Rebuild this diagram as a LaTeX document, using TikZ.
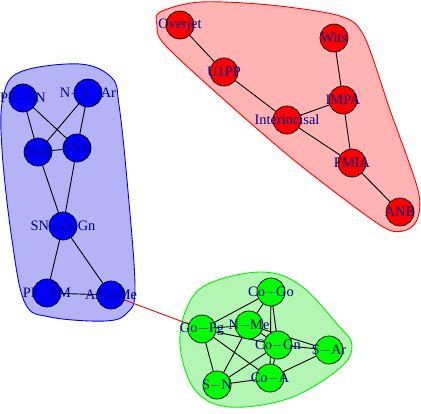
\documentclass[tikz,border=0pt]{standalone}
\usepackage{fontspec}
\setmainfont{Liberation Serif}
\pgfdeclarelayer{hulls}
\pgfdeclarelayer{edges}
\pgfsetlayers{hulls,edges,main}
\begin{document}
\begin{tikzpicture}[x=1pt,y=-1pt,
  vtx/.style={circle,draw=black,line width=0.7pt,minimum size=28pt,inner sep=0pt},
  bv/.style={vtx,fill={rgb,255:red,0;green,0;blue,255}},
  rv/.style={vtx,fill={rgb,255:red,255;green,0;blue,0}},
  gv/.style={vtx,fill={rgb,255:red,0;green,255;blue,0}},
  lbl/.style={inner sep=0pt,text={rgb,255:red,0;green,0;blue,139},font=\fontsize{14.4}{14.4}\selectfont},
  edge/.style={draw=black,line width=0.9pt},
  hull/.style={line width=0.9pt}]
\useasboundingbox (0,0) rectangle (421,413);
% hulls
\begin{pgfonlayer}{hulls}
\draw[hull,draw={rgb,255:red,0;green,0;blue,255},fill={rgb,255:red,179;green,179;blue,245}]
  plot[smooth cycle,tension=0.6] coordinates {(3,98) (20,72) (80,64) (112,78) (119,105) (127,180) (135,287) (127,313) (105,321) (50,317) (25,303) (12,240) (2,150)};
\draw[hull,draw={rgb,255:red,255;green,0;blue,0},fill={rgb,255:red,255;green,179;blue,179}]
  plot[smooth cycle,tension=0.5] coordinates {(160,12) (200,2) (270,5) (340,16) (364,36) (390,110) (418,190) (417,220) (403,231) (380,225) (300,165) (230,105) (165,45) (157,25)};
\draw[hull,draw={rgb,255:red,0;green,238;blue,0},fill={rgb,255:red,179;green,245;blue,179}]
  plot[smooth cycle,tension=0.6] coordinates {(210,283) (262,272) (300,285) (338,325) (352,345) (340,368) (290,398) (230,407) (195,390) (180,345) (188,305)};
\end{pgfonlayer}
% vertices
\foreach \n/\s/\x/\y in {ppsn/bv/23/98, nsar/bv/88/93, snb/bv/38/152, sna/bv/77/148, sngogn/bv/63/226, pppm/bv/47/293, argome/bv/111/295,
  overjet/rv/180/25, u1pp/rv/224/72, inter/rv/287/120, wits/rv/334/38, impa/rv/343/100, fmia/rv/352/163, anb/rv/400/212,
  cogo/gv/271/292, gopg/gv/202/329, nme/gv/249/325, cogn/gv/278/345, sar/gv/329/350, coa/gv/270/378, sn/gv/217/385}
  \node[\s] (\n) at (\x,\y) {};
% labels
\node[lbl] (lppsn) at (ppsn) {PP$-$SN};
\node[lbl] (lnsar) at (nsar) {N$-$S$-$Ar};
\node[lbl] (lsnb) at (snb) {SNB};
\node[lbl] (lsna) at (sna) {SNA};
\node[lbl] (lsngogn) at (sngogn) {SN$-$GoGn};
\node[lbl] (lpppm) at (pppm) {PP$-$PM};
\node[lbl] (largome) at (argome) {ArGoMe};
\node[lbl] (loverjet) at (overjet) {Overjet};
\node[lbl] (lu1pp) at (u1pp) {U1PP};
\node[lbl] (linter) at (inter) {Interincisal};
\node[lbl] (lwits) at (wits) {Wits};
\node[lbl] (limpa) at (impa) {IMPA};
\node[lbl] (lfmia) at (fmia) {FMIA};
\node[lbl] (lanb) at (anb) {ANB};
\node[lbl] (lcogo) at (cogo) {Co$-$Go};
\node[lbl] (lgopg) at (gopg) {Go$-$Pg};
\node[lbl] (lnme) at (nme) {N$-$Me};
\node[lbl] (lcogn) at (cogn) {Co$-$Gn};
\node[lbl] (lsar) at (sar) {S$-$Ar};
\node[lbl] (lcoa) at (coa) {Co$-$A};
\node[lbl] (lsn) at (sn) {S$-$N};
% edges
\begin{pgfonlayer}{edges}
\foreach \a/\b in {ppsn/snb,ppsn/sna,nsar/snb,nsar/sna,snb/sna,snb/sngogn,sna/sngogn,sngogn/pppm,sngogn/argome,pppm/argome,
  overjet/u1pp,u1pp/inter,inter/impa,inter/fmia,wits/impa,impa/fmia,fmia/anb,
  cogo/gopg,cogo/nme,cogo/cogn,cogo/coa,gopg/nme,gopg/cogn,gopg/coa,gopg/sn,nme/cogn,nme/sar,nme/sn,cogn/sar,cogn/sn,cogn/coa,coa/sn,coa/sar}
  \draw[edge] (\a.center) -- (\b.center);
\draw[line width=0.9pt,draw=red] (argome.center) -- (gopg.center);
\end{pgfonlayer}
\end{tikzpicture}
\end{document}
